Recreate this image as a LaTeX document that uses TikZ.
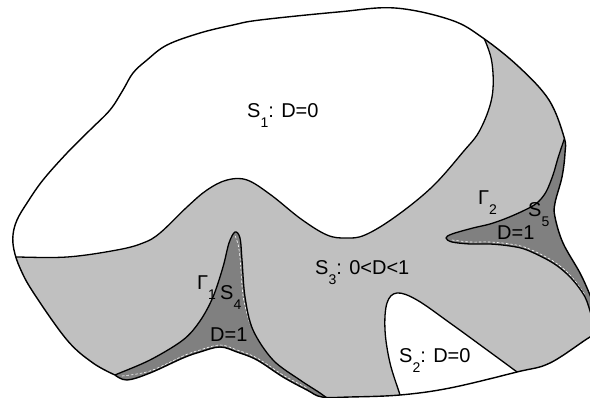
\documentclass[tikz,border=0pt]{standalone}
\usepackage{fontspec}
\setmainfont{Liberation Sans}
\definecolor{lightfill}{RGB}{192,192,192}
\definecolor{darkfill}{RGB}{128,128,128}
\newcommand\lowsub[1]{\raisebox{-10pt}{\fontsize{14}{14}\selectfont #1}}
\def\OuterPath{plot[smooth,tension=0.6] coordinates {(115,375) (93,363) (67,340) (33,292) (20,268) (14,250) (13,235) (17,220) (27,203) (43,180) (67,153) (90,130) (110,110) (123,90) (133,73) (147,60) (167,45) (200,33) (233,25) (260,20) (338,12) (395,8) (451,20) (483,38) (519,67) (549,100) (564,137) (565,153) (562,177) (555,203) (555,217) (563,243) (580,273) (590,295) (600,320)} -- (612,330) -- (600,334) -- plot[smooth,tension=0.6] coordinates {(600,334) (590,337) (550,363) (517,372) (450,388) (400,395) (350,397) (322,397) (307,390) (283,377) (257,360) (237,352) (220,347) (200,352) (183,358) (150,373) (127,380) (115,375)} -- cycle}
\def\SOneEdge{plot[smooth,tension=0.6] coordinates {(6,257) (15,257) (67,257) (117,250) (143,243) (160,233) (187,207) (207,190) (227,180) (247,180) (271,195) (301,219) (327,235) (346,238) (365,235) (395,217) (432,187) (463,152) (480,130) (492,97) (492,63) (484,38) (478,28)}}
\def\STwoEdge{plot[smooth,tension=0.6] coordinates {(401,402) (400,395) (390,363) (385,330) (387,303) (397,293) (417,300) (450,323) (483,347) (517,372) (524,378)}}
\def\SFourEdge{plot[smooth,tension=0.55] coordinates {(112,377) (115,375) (150,360) (183,340) (200,321) (213,297) (223,267) (229,243) (235,232) (240,238) (242,260) (245,297) (253,330) (273,360) (300,380) (320,393) (332,402)}}
\def\SFiveEdge{plot[smooth,tension=0.55] coordinates {(568,130) (564,140) (558,158) (553,175) (546,192) (537,203) (525,210) (507,218) (490,224) (473,228) (452,234) (446,238) (452,242) (470,244) (490,244) (510,246) (527,250) (553,263) (571,278) (585,297) (592,317) (600,335)}}
\tikzset{
  outerline/.style={draw=black,line width=1.4pt,line join=round},
  innerline/.style={draw=black,line width=1.3pt,line join=round},
  whitedash/.style={draw=white,line width=0.6pt,dash pattern=on 2.5pt off 2pt},
  lbl/.style={anchor=base west,inner sep=0pt,font=\fontsize{20}{20}\selectfont}
}
\begin{document}
\begin{tikzpicture}[x=1pt,y=-1pt]
\useasboundingbox (0,0) rectangle (590,398);
\clip (0,0) rectangle (590,398);
\fill[white] (0,0) rectangle (590,398);
\begin{scope}
  \clip \OuterPath;
  \fill[lightfill] (-10,-10) rectangle (620,420);
  \fill[white] \SOneEdge -- (478,-10) -- (-10,-10) -- (-10,257) -- cycle;
  \fill[white] \STwoEdge -- (524,420) -- (401,420) -- cycle;
  \fill[darkfill] \SFourEdge -- (332,420) -- (112,420) -- cycle;
  \fill[darkfill] \SFiveEdge -- (620,335) -- (620,130) -- cycle;
  \begin{scope}[xshift=-1.8pt]
    \draw[whitedash] plot[smooth,tension=0.55] coordinates {(237,236) (240,245) (242,260) (245,297) (252,325)};
  \end{scope}
  \begin{scope}[yshift=2pt]
    \draw[whitedash] plot[smooth,tension=0.6] coordinates {(122,378) (150,373) (183,358) (200,352) (220,347) (237,352) (257,360) (283,377) (307,390)};
    \draw[whitedash] plot[smooth,tension=0.55] coordinates {(452,242) (470,244) (490,244) (510,246) (527,250) (553,263) (571,278) (585,297)};
  \end{scope}
  \draw[innerline] \SOneEdge;
  \draw[innerline] \STwoEdge;
  \draw[innerline] \SFourEdge;
  \draw[innerline] \SFiveEdge;
\end{scope}
\draw[outerline] \OuterPath;
\node[lbl] (s1) at (247,118) {S\lowsub{1}: D=0};
\node[lbl] (s3) at (315,275) {S\lowsub{3}: 0<D<1};
\node[lbl] (s2) at (399,363) {S\lowsub{2}: D=0};
\node[lbl] (g1) at (197,290) {Γ\lowsub{1}};
\node[lbl] (s4) at (220,300) {S\lowsub{4}};
\node[lbl] (d4) at (210,342) {D=1};
\node[lbl] (g2) at (478,205) {Γ\lowsub{2}};
\node[lbl] (s5) at (528,217) {S\lowsub{5}};
\node[lbl] (d5) at (497,240) {D=1};
\end{tikzpicture}
\end{document}
